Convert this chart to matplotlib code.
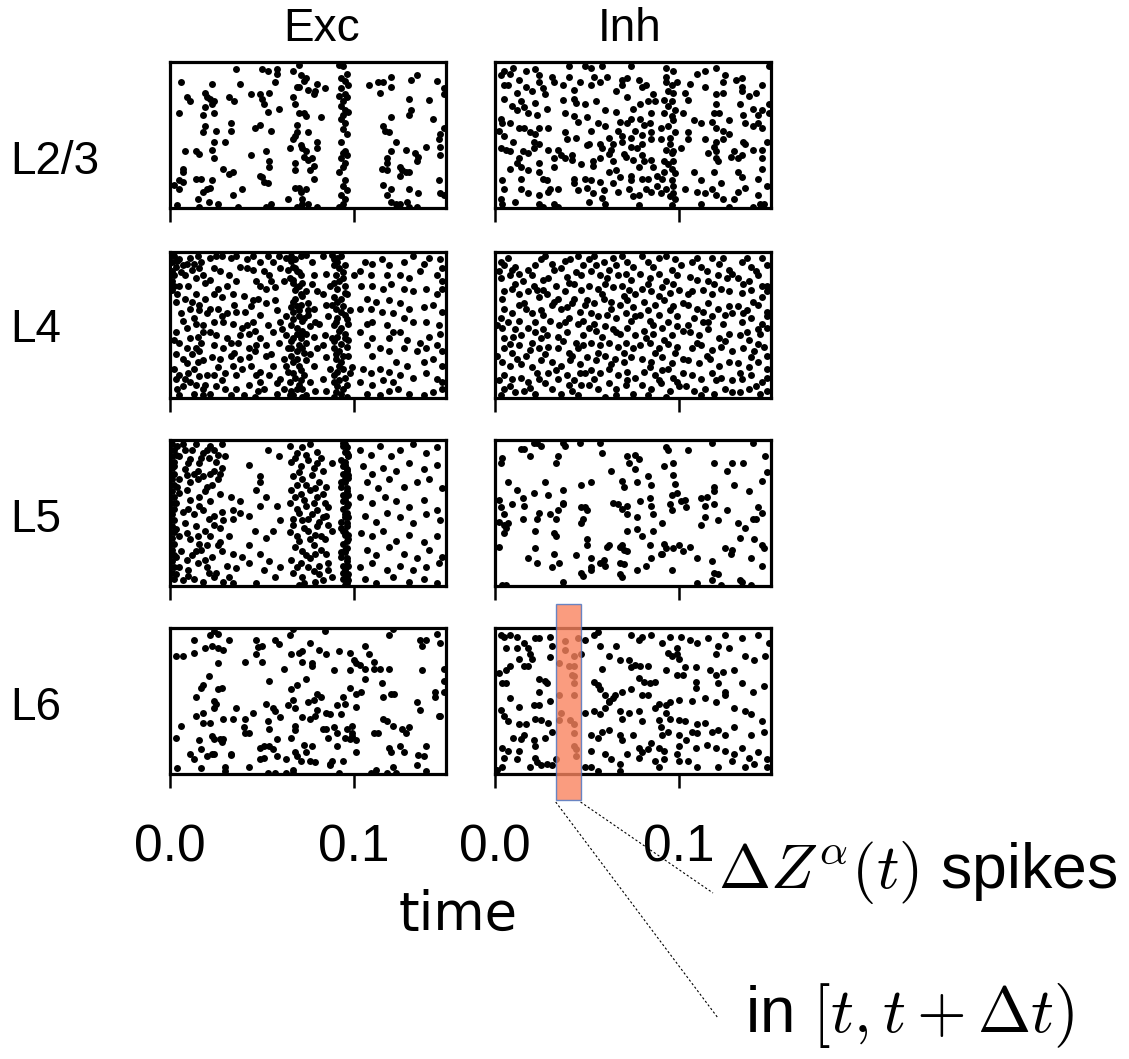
import numpy as np
import matplotlib
matplotlib.use("Agg")
import matplotlib.pyplot as plt
from matplotlib.patches import Rectangle
from matplotlib.lines import Line2D
import matplotlib.transforms as mtransforms

plt.rcParams['font.family'] = ['Liberation Sans', 'DejaVu Sans']
plt.rcParams['mathtext.fontset'] = 'cm'

# spike rasters: (time in ms, neuron index on a 0-100 scale)
exc_l23 = [
    (6,86),(9,76),(11,73),(5,65),(18,64),(18,52),(19,56),(8,39),(14,39),(16,37),(7,27),(7,25),(5,19),(7,18),
    (2,16),(5,13),(14,20),(17,20),(15,6),(4,2),(16,1),(18,11),(20,13),(22,14),(23,19),(21,4),(26,3),(24,34),
    (23,40),(24,45),(30,45),(25,53),(19,69),(23,71),(24,73),(20,76),(19,79),(23,85),(22,75),(24,65),(32,76),
    (35,73),(38,85),(36,95),(33,58),(33,53),(29,27),(34,25),(32,23),(34,9),(37,1),(39,13),(44,78),(44,36),
    (46,55),(49,57),(49,78),(50,75),(51,71),(53,66),(54,79),(52,39),(54,32),(54,28),(49,22),(50,21),(51,18),
    (53,17),(52,1),(55,3),(55,53),(57,86),(59,68),(50,95),(53,94),(58,95),(58,92),(67,94),(71,91),(74,89),
    (73,87),(69,83),(70,83),(75,81),(78,78),(80,85),(84,82),(79,80),(67,76),(68,71),(70,65),(73,65),(74,63),
    (69,57),(69,52),(68,49),(67,47),(75,52),(82,62),(80,45),(80,41),(71,43),(72,41),(74,39),(73,35),(75,33),
    (77,34),(78,29),(76,26),(78,20),(65,41),(68,31),(68,26),(64,6),(68,14),(70,14),(71,11),(74,13),(72,6),
    (72,3),(69,1),(75,3),(80,1),(70,98),
    (92,98),(94,97),(96,92),(93,89),(95,87),(97,84),(93,82),(95,78),(92,77),(96,76),(94,73),(93,70),(95,67),
    (97,66),(94,64),(93,61),(95,58),(94,54),(96,51),(93,45),(95,39),(94,38),(96,36),(93,34),(95,31),(94,28),
    (92,25),(95,19),(94,15),(96,12),(93,9),(95,6),(94,3),(92,1),
    (108,84),(113,86),(116,86),(114,79),(120,90),(120,83),(131,88),(134,91),(145,87),(149,82),(149,78),
    (130,75),(141,74),(131,67),(130,64),(120,62),(143,61),(116,56),(117,53),(119,52),(149,55),(147,51),
    (146,47),(147,42),(123,45),(139,42),(120,39),(128,40),(133,38),(135,35),(134,32),(118,34),(118,31),
    (115,27),(118,26),(125,28),(126,26),(128,25),(130,25),(125,22),(147,36),(146,19),(147,10),(149,9),
    (116,16),(120,13),(130,13),(135,10),(118,9),(120,4),(123,3),(129,4),(130,1),(134,1),(125,3),
]

inh_l23 = [
    (5,94),(3,91),(8,92),(17,94),(22,95),(24,91),(31,90),(40,97),(49,97),(52,96),(58,97),(54,90),(74,97),
    (93,96),(97,94),(110,92),(114,94),(120,96),(125,91),(131,88),(134,89),(149,97),
    (5,84),(7,84),(12,79),(17,83),(24,86),(26,82),(32,86),(37,84),(43,81),(52,84),(57,86),(61,90),(69,88),
    (69,84),(72,89),(78,88),(80,83),(82,84),(93,86),(96,84),(99,86),(94,80),(97,79),(103,79),(114,83),
    (120,78),(124,79),(134,83),(134,80),(145,84),(142,79),
    (5,75),(14,73),(22,72),(16,69),(27,78),(37,74),(43,75),(49,71),(55,73),(60,67),(66,66),(72,76),(79,71),
    (83,73),(87,73),(92,74),(96,73),(98,67),(105,74),(120,71),(133,71),(140,68),(145,67),(149,71),(12,67),
    (18,65),(23,64),(38,65),(43,63),(68,59),(74,61),(79,61),(85,65),(92,65),(96,63),(102,65),(119,65),
    (122,65),(135,64),(143,64),(149,65),
    (3,61),(4,58),(8,58),(13,55),(16,55),(19,52),(22,51),(24,55),(29,55),(38,52),(45,59),(52,53),(56,58),
    (67,53),(72,58),(76,53),(81,57),(80,50),(85,52),(90,55),(94,56),(98,52),(105,52),(112,58),(118,59),
    (120,55),(124,53),(127,51),(136,58),(140,56),(143,58),(145,55),(5,49),(21,45),(24,44),(39,47),(51,44),
    (57,44),(62,48),(69,49),(69,45),(74,48),(80,44),(85,47),(90,47),(95,48),(105,47),(114,47),(120,45),
    (124,47),(135,45),
    (3,41),(6,40),(8,39),(15,39),(21,41),(29,40),(34,40),(36,36),(42,36),(50,43),(58,41),(63,40),(70,37),
    (74,42),(80,36),(93,40),(97,39),(101,41),(119,42),(120,39),(130,39),(136,44),(145,40),(13,34),(12,31),
    (32,34),(38,34),(42,33),(53,29),(57,34),(64,32),(71,35),(75,33),(81,32),(85,33),(92,32),(97,32),(120,34),
    (121,32),(132,34),(134,36),(145,34),
    (14,28),(18,26),(24,25),(32,28),(53,32),(62,25),(66,26),(74,22),(78,28),(80,20),(88,22),(92,25),(96,27),
    (98,24),(119,25),(132,25),(145,27),(14,20),(26,20),(43,20),(49,20),(52,19),(57,18),(64,17),(68,21),
    (74,19),(83,20),(91,20),(96,19),(112,19),(123,17),(134,21),(143,20),(4,19),
    (5,13),(14,13),(18,10),(24,9),(29,11),(30,13),(34,13),(43,17),(50,14),(53,10),(59,12),(67,11),(73,13),
    (75,8),(78,9),(82,13),(85,11),(90,10),(97,10),(98,6),(103,13),(110,11),(118,13),(120,9),(124,6),(130,6),
    (132,11),(143,9),(3,6),(4,3),(24,3),(26,1),(32,3),(34,1),(51,4),(60,3),(78,2),(96,2),(112,3),(127,1),
    (140,1),(144,3),(146,3),
    (94,70),(97,60),(95,44),(96,38),(94,30),(97,15),(95,8),(93,90),
    (10,96),(13,88),(20,80),(9,70),(28,68),(2,53),(10,45),(18,38),(24,31),(8,27),(28,19),(11,4),(40,90),
    (46,86),(44,72),(50,62),(44,48),(60,56),(64,44),(47,30),(62,37),(45,12),(58,7),(66,80),(75,68),(86,78),
    (84,58),(77,41),(86,28),(88,15),(93,13),(106,85),(108,60),(116,38),(108,25),(114,10),(127,60),(138,77),
    (128,35),(140,40),(148,45),(136,14),(148,15),(124,86),
]

exc_l4 = [
    (2,97),(5,95),(3,90),(7,91),(11,96),(13,92),(15,97),(17,93),(2,84),(8,84),(5,77),(10,77),(14,82),(18,84),
    (4,71),(3,66),(14,71),(16,64),(11,61),(7,53),(13,55),(14,51),(18,50),(3,45),(5,38),(11,41),(15,42),
    (18,45),(17,38),(14,34),(9,34),(16,32),(7,27),(18,26),(13,20),(5,16),(3,13),(8,13),(11,11),(14,9),(18,6),
    (5,2),(13,3),(18,2),(19,9),(4,6),(10,17),(20,16),(16,60),(20,58),(1,93),(1,87),(1,80),(1,74),
    (22,96),(25,97),(28,97),(33,96),(36,97),(42,95),(45,97),(24,89),(27,87),(32,84),(38,90),(42,89),(45,88),
    (22,81),(26,75),(31,77),(36,80),(47,80),(24,71),(28,69),(34,71),(45,67),(22,61),(26,61),(31,58),(36,59),
    (41,59),(44,63),(24,52),(29,52),(34,51),(42,50),(45,52),(22,45),(25,43),(31,41),(38,43),(43,44),(46,46),
    (24,36),(29,34),(33,38),(37,38),(43,34),(47,36),(23,28),(27,27),(33,29),(38,27),(43,28),(46,32),(26,21),
    (34,22),(39,20),(44,22),(24,16),(30,17),(36,16),(47,16),(49,11),(43,9),(36,6),(30,6),(25,8),(22,3),
    (33,2),(40,2),(48,5),(46,1),
    (49,93),(53,97),(56,93),(59,97),(63,96),(51,87),(54,84),(60,89),(64,88),(49,77),(52,75),(57,76),(62,80),
    (65,82),(48,68),(52,65),(57,67),(49,57),(53,50),(56,45),(60,52),(63,56),(49,41),(52,36),(59,38),(63,43),
    (52,29),(56,22),(62,27),(64,34),(49,18),(54,16),(60,13),(64,18),(51,6),(58,3),(62,6),(65,2),
    (66,97),(68,95),(71,97),(74,98),(77,93),(67,90),(69,87),(71,84),(67,81),(70,77),(72,79),(68,74),(71,71),
    (74,73),(67,66),(69,63),(71,64),(75,65),(78,61),(67,59),(70,56),(72,53),(75,57),(66,50),(69,48),(72,46),
    (76,49),(79,52),(67,41),(71,41),(74,38),(78,42),(66,34),(69,32),(72,34),(76,30),(67,25),(70,22),(74,26),
    (78,22),(68,14),(71,12),(65,11),(69,6),(72,6),(76,11),(67,2),(74,2),(79,5),(78,84),(80,73),(80,34),
    (83,97),(88,98),(91,96),(93,97),(89,91),(92,89),(95,91),(85,85),(90,84),(94,82),(87,77),(91,75),(95,77),
    (83,71),(89,69),(93,68),(96,71),(85,64),(90,61),(94,63),(86,56),(91,55),(95,57),(81,51),(89,50),(93,48),
    (97,51),(84,43),(88,41),(91,42),(95,41),(83,36),(89,34),(92,32),(96,35),(85,28),(90,27),(93,25),(97,29),
    (87,20),(91,18),(94,20),(98,17),(83,13),(89,11),(92,12),(96,9),(85,5),(90,4),(93,3),(96,1),(99,21),
    (100,84),
    (106,93),(110,92),(115,95),(119,91),(103,87),(109,84),(118,84),(104,77),(110,77),(116,75),(120,78),
    (107,68),(112,66),(119,67),(103,61),(109,61),(115,59),(121,58),(107,51),(110,52),(118,50),(103,45),
    (110,41),(119,41),(121,45),(107,36),(114,34),(119,32),(110,29),(105,20),(109,17),(114,20),(119,18),
    (103,11),(110,9),(116,12),(121,11),(107,3),(114,2),(119,5),
    (127,93),(132,97),(138,92),(141,96),(147,95),(148,89),(125,84),(130,82),(136,87),(145,84),(148,80),
    (127,75),(132,73),(139,75),(145,71),(148,75),(125,65),(130,61),(138,62),(143,64),(148,59),(127,55),
    (132,52),(139,52),(146,50),(125,45),(129,40),(136,38),(141,42),(147,44),(127,34),(134,32),(139,34),
    (145,36),(148,32),(123,25),(129,22),(138,25),(143,27),(148,22),(125,16),(132,14),(139,17),(145,13),
    (148,11),(124,6),(130,3),(138,2),(143,4),(148,6),
    (66,94),(68,89),(70,86),(67,79),(69,76),(72,70),(68,68),(66,62),(70,60),(73,55),(67,54),(69,44),(71,43),
    (66,39),(70,36),(73,31),(66,29),(69,27),(71,19),(67,17),(73,16),(70,9),(66,5),(72,1),(74,44),(75,60),
    (77,78),(89,95),(91,93),(94,86),(92,80),(89,79),(95,72),(91,66),(88,64),(93,59),(96,54),(90,52),(92,46),
    (95,44),(89,39),(93,37),(90,30),(94,29),(92,22),(89,16),(95,14),(91,8),(94,6),(89,1),(97,40),(98,60),
    (4,94),(9,92),(12,88),(6,86),(16,89),(19,79),(2,77),(8,68),(12,66),(19,68),(6,58),(9,48),(2,40),(12,30),
    (3,30),(9,24),(15,25),(2,20),(7,8),(16,15),(40,70),(35,64),(28,56),(39,48),(35,31),(28,12),(55,80),
    (58,60),(61,47),(55,30),(58,10),(63,22),
]

inh_l4 = [
    (3,93),(5,91),(9,88),(13,85),(18,88),(22,91),(25,95),(3,82),(8,84),(15,80),(21,77),(26,81),(5,73),(9,75),
    (13,71),(18,73),(23,74),(5,61),(13,64),(16,65),(20,58),(25,60),(3,55),(7,52),(13,53),(18,48),(22,52),
    (4,48),(5,41),(10,42),(14,43),(20,38),(25,41),(5,34),(9,31),(13,36),(17,29),(24,34),(4,25),(8,22),(14,23),
    (20,21),(25,26),(5,16),(9,13),(14,14),(18,11),(24,13),(5,6),(11,4),(16,5),(22,3),(3,2),
    (27,97),(31,92),(36,89),(41,95),(45,97),(48,91),(29,82),(33,77),(39,83),(43,78),(47,84),(28,71),(34,68),
    (38,73),(43,68),(47,74),(31,64),(36,61),(42,65),(46,59),(30,53),(35,50),(40,55),(45,51),(28,43),(34,42),
    (39,45),(44,38),(48,43),(29,35),(34,34),(40,31),(45,34),(31,25),(36,22),(41,26),(46,23),(29,17),(34,13),
    (39,16),(43,12),(49,17),(31,6),(36,3),(42,5),(47,9),(45,2),
    (51,95),(54,97),(59,93),(64,96),(69,97),(72,93),(75,90),(52,87),(57,84),(62,88),(67,84),(71,85),(74,81),
    (51,77),(56,75),(60,78),(64,76),(69,77),(73,74),(76,71),(50,67),(54,65),(59,68),(63,66),(68,64),(72,67),
    (75,62),(52,58),(56,56),(61,57),(66,55),(71,58),(74,53),(51,48),(55,46),(60,49),(64,47),(68,44),(72,48),
    (76,43),(52,38),(57,36),(62,38),(67,35),(71,38),(75,34),(50,28),(55,26),(60,29),(65,27),(70,25),(74,28),
    (52,19),(57,17),(62,20),(67,16),(72,18),(76,14),(51,9),(56,6),(62,10),(66,6),(71,9),(75,3),(60,1),
    (80,97),(83,93),(89,96),(93,97),(98,95),(101,91),(79,85),(84,82),(89,85),(93,80),(99,84),(80,75),(85,73),
    (91,76),(95,72),(100,74),(81,66),(87,64),(92,67),(97,63),(102,65),(79,57),(84,53),(89,57),(94,52),
    (99,56),(81,46),(86,44),(91,48),(96,43),(102,46),(79,36),(84,38),(89,34),(94,37),(99,35),(80,27),(85,25),
    (91,28),(96,24),(102,27),(81,18),(87,16),(91,19),(97,14),(102,17),(80,9),(85,6),(90,10),(95,5),(100,8),
    (93,1),
    (107,93),(112,90),(118,96),(122,92),(127,88),(106,83),(110,81),(116,80),(121,84),(126,82),(129,85),
    (107,73),(113,74),(118,71),(123,75),(127,73),(105,64),(110,61),(116,65),(121,61),(127,63),(108,55),
    (113,52),(118,56),(124,51),(129,58),(106,45),(111,43),(116,47),(122,41),(127,44),(107,34),(112,36),
    (118,33),(123,35),(129,32),(105,26),(111,24),(117,27),(122,22),(127,25),(107,16),(112,13),(118,17),
    (123,14),(129,12),(108,5),(114,6),(119,3),(125,6),(129,4),
    (134,93),(139,90),(145,96),(148,91),(132,82),(138,80),(143,84),(148,77),(134,72),(139,74),(145,69),
    (148,73),(132,63),(137,60),(143,64),(148,59),(134,52),(139,55),(145,51),(148,56),(133,43),(138,40),
    (144,44),(148,48),(135,34),(141,32),(146,35),(148,29),(132,24),(138,21),(143,25),(148,20),(134,13),
    (139,16),(145,11),(148,14),(133,4),(138,6),(144,3),(148,5),
    (7,96),(11,90),(2,87),(20,84),(11,78),(4,68),(24,69),(9,58),(17,61),(1,50),(11,47),(22,45),(8,37),
    (19,33),(1,29),(12,27),(23,17),(2,12),(8,8),(19,7),(32,88),(38,94),(44,86),(40,79),(26,74),(32,66),
    (39,62),(49,64),(26,57),(38,52),(48,53),(26,47),(37,39),(48,36),(27,30),(42,29),(33,19),(46,17),(27,10),
    (40,9),(55,91),(61,82),(66,91),(58,71),(70,70),(63,61),(76,56),(54,51),(66,45),(58,42),(70,31),(56,31),
    (63,23),(72,12),(54,13),(66,2),(86,90),(96,88),(83,78),(97,78),(89,70),(83,60),(95,60),(86,50),(99,49),
    (82,41),(92,40),(87,31),(98,31),(84,21),(94,20),(89,12),(99,11),(83,2),(110,96),(115,87),(124,96),
    (105,71),(119,78),(113,59),(125,57),(105,50),(116,52),(110,38),(125,39),(115,29),(120,12),(104,8),
    (112,2),(137,96),(142,87),(135,78),(145,77),(140,66),(135,58),(143,47),(137,45),(143,37),(139,28),
    (133,17),(142,8),
]

exc_l5 = [
    (94,98),(96,95),(95,92),(97,89),(93,86),(95,83),(96,80),(94,77),(97,74),(95,71),(93,68),(96,65),(94,62),
    (95,59),(97,56),(94,53),(96,50),(95,47),(93,44),(96,41),(94,38),(95,35),(97,32),(94,29),(96,26),(95,23),
    (93,20),(96,17),(94,14),(95,11),(97,8),(94,5),(96,2),(95,97),(96,91),(95,85),(96,79),(95,73),(96,67),
    (95,61),(96,55),(95,49),(96,43),(95,37),(96,31),(95,25),(96,19),(95,13),(96,7),(95,1),
    (1,97),(2,93),(1,89),(2,85),(1,81),(2,77),(1,73),(2,69),(1,65),(2,61),(1,57),(2,53),(1,49),(2,45),(1,41),
    (2,37),(1,33),(2,29),(1,25),(2,21),(1,17),(2,13),(1,9),(2,5),
    (4,96),(7,97),(12,93),(14,97),(18,91),(22,96),(24,93),(28,97),(5,89),(11,87),(16,84),(21,88),(25,85),
    (30,89),(2,82),(8,80),(13,77),(18,75),(24,79),(28,81),(5,73),(11,71),(15,73),(20,68),(26,73),
    (5,64),(11,59),(16,61),(22,58),(27,63),(33,61),(38,58),(7,51),(13,49),(18,52),(24,48),(28,51),(34,52),
    (8,43),(14,41),(19,38),(24,42),(29,45),(34,46),(38,50),(5,34),(11,32),(16,29),(22,34),(27,30),(32,34),
    (6,24),(12,21),(17,25),(23,20),(28,24),(34,22),(39,20),(5,13),(10,11),(15,16),(20,13),(25,9),(31,14),
    (36,12),(7,4),(13,5),(18,3),(24,6),(29,3),(34,2),
    (43,83),(49,75),(53,93),(47,66),(52,61),(43,48),(49,55),(46,38),(52,33),(56,38),(43,28),(49,22),(54,17),
    (43,16),(51,11),(57,6),(60,13),(47,2),(49,71),(58,55),(59,89),(60,45),
    (65,96),(69,91),(72,95),(76,97),(80,92),(66,85),(71,82),(75,86),(80,84),(83,79),(67,75),(72,73),(77,76),
    (81,71),(66,66),(71,63),(76,66),(80,61),(85,68),(65,57),(69,53),(74,55),(80,52),(84,57),(67,46),(72,45),
    (77,49),(81,44),(85,48),(65,37),(69,34),(75,38),(79,35),(84,32),(68,27),(72,24),(78,28),(82,25),(66,18),
    (71,16),(76,19),(81,14),(86,16),(67,9),(72,6),(78,10),(83,4),(70,1),(88,6),(88,38),(88,84),
    (103,93),(109,90),(114,96),(120,89),(125,93),(132,97),(139,91),(145,95),(105,82),(110,77),(116,81),
    (123,79),(130,84),(138,80),(145,83),(107,71),(113,67),(119,73),(127,68),(134,71),(141,73),(148,67),
    (103,61),(110,57),(117,61),(123,58),(130,54),(138,59),(145,52),(106,48),(112,44),(118,50),(125,47),
    (132,43),(139,49),(147,45),(104,36),(110,34),(116,38),(123,31),(130,35),(138,30),(145,34),(107,25),
    (112,21),(119,27),(127,22),(134,19),(141,25),(148,20),(103,13),(110,16),(118,11),(125,14),(132,11),
    (139,13),(146,16),(106,5),(112,2),(121,6),(130,3),(138,5),(145,2),
    (3,90),(8,93),(10,84),(17,88),(20,93),(26,90),(9,76),(15,79),(22,77),(27,77),(4,68),(9,66),(19,65),
    (23,69),(3,57),(10,53),(16,55),(21,46),(27,40),(3,39),(9,36),(15,34),(20,28),(26,28),(3,20),(9,18),
    (14,24),(19,18),(3,8),(10,7),(21,9),(32,6),
    (68,88),(74,90),(78,81),(70,78),(82,88),(69,69),(74,69),(79,67),(83,63),(68,61),(73,59),(78,57),(86,54),
    (70,50),(75,46),(83,47),(67,42),(73,40),(80,41),(86,42),(70,31),(76,32),(82,34),(74,21),(79,22),(85,22),
    (69,13),(75,13),(81,8),(86,11),(73,2),(79,3),
    (94,96),(97,90),(94,82),(97,76),(93,71),(97,62),(94,58),(97,47),(93,40),(97,35),(93,23),(97,14),(94,9),
    (97,4),
]

inh_l5 = [
    (14,94),(16,94),(19,89),(21,98),(23,98),(25,96),(37,98),(38,96),(46,98),(57,98),(58,91),(72,89),(76,90),
    (78,87),(73,84),(93,95),(94,93),(105,93),(118,98),(140,98),(147,89),(148,78),(4,88),(3,84),(34,89),
    (33,84),(63,79),(76,80),(83,75),(85,69),(97,84),(97,76),(92,82),(98,70),(119,84),(126,79),(129,84),
    (135,84),(145,72),(7,71),(12,66),(15,60),(16,55),(21,64),(27,71),(29,62),(37,66),(37,57),(47,69),(52,71),
    (69,72),(70,68),(77,71),(79,58),(84,60),(85,55),(86,49),(96,62),(99,64),(101,58),(103,59),(104,54),
    (112,60),(115,61),(119,65),(119,68),(130,69),(138,65),(2,59),(3,54),(5,49),(9,56),(2,44),(5,42),(7,43),
    (6,40),(5,36),(15,46),(22,38),(23,46),(24,50),(30,49),(33,46),(34,52),(32,36),(33,34),(37,56),(47,54),
    (49,54),(50,52),(48,46),(47,43),(64,57),(67,56),(69,53),(72,55),(72,49),(77,47),(72,38),(77,39),(80,34),
    (86,38),(91,43),(95,56),(96,52),(112,42),(114,47),(114,55),(121,45),(119,56),(126,52),(132,43),(136,40),
    (140,46),(142,46),(143,54),(145,50),(133,33),(2,27),(22,26),(32,22),(18,19),(23,16),(31,13),(35,16),
    (44,21),(50,32),(50,28),(52,19),(57,16),(59,18),(60,14),(52,13),(52,11),(47,9),(48,7),(61,27),(62,28),
    (68,27),(69,28),(70,25),(72,24),(68,16),(70,15),(68,8),(69,6),(77,11),(82,14),(84,28),(85,19),(90,22),
    (92,29),(93,26),(97,26),(100,28),(102,24),(106,27),(91,22),(96,11),(110,19),(118,17),(119,9),(121,8),
    (118,4),(125,26),(129,25),(128,22),(141,32),(145,28),(146,26),(139,19),(145,14),(4,1),(6,1),(37,3),
    (110,2),(123,1),(133,4),(134,3),(139,1),
]

exc_l6 = [
    (13,92),(22,95),(24,98),(26,96),(32,92),(47,92),(57,92),(59,89),(65,95),(67,99),(84,98),(119,95),(121,99),
    (136,92),(139,92),(137,88),(145,96),(147,90),(3,81),(7,81),(13,83),(19,86),(23,88),(26,86),(29,85),
    (48,87),(50,88),(47,82),(66,82),(70,83),(72,84),(76,90),(81,85),(85,82),(92,84),(98,83),(106,88),
    (108,82),(26,76),(41,77),(50,77),(62,72),(72,77),(77,76),(77,74),(89,71),(98,71),(100,78),(101,76),
    (103,75),(106,72),(106,65),(111,77),(111,72),(114,72),(119,72),(137,71),(149,72),(149,64),(21,67),
    (18,61),(17,59),(26,58),(28,59),(54,64),(66,58),(69,61),(74,65),(80,55),(94,53),(98,59),(101,55),
    (104,56),(115,62),(116,53),(120,55),(122,55),(144,56),(144,53),(149,56),(134,49),(14,53),(24,50),
    (25,48),(24,45),(36,45),(41,38),(45,42),(52,48),(56,45),(57,43),(64,47),(67,51),(68,45),(75,49),(78,51),
    (80,44),(82,53),(85,42),(87,41),(91,47),(95,48),(101,46),(136,44),(146,40),(14,40),(18,42),(18,35),
    (22,35),(29,38),(34,38),(40,32),(41,28),(43,28),(53,36),(54,31),(60,39),(68,33),(68,30),(72,39),(76,38),
    (79,40),(83,31),(85,31),(89,32),(93,41),(96,31),(99,33),(99,28),(101,23),(116,38),(118,36),(121,33),
    (126,31),(128,28),(130,32),(113,28),(111,28),(3,25),(6,33),(16,23),(17,17),(20,12),(23,26),(24,24),
    (27,24),(28,22),(29,24),(23,14),(24,14),(33,14),(33,13),(49,18),(51,19),(54,19),(56,17),(58,24),(58,12),
    (49,10),(51,11),(63,10),(66,25),(68,15),(69,12),(71,9),(73,20),(74,15),(76,9),(77,19),(79,8),(86,25),
    (87,6),(88,9),(91,19),(91,28),(94,9),(95,25),(98,24),(99,26),(101,15),(119,18),(120,15),(125,19),
    (127,15),(135,13),(138,12),(139,19),(134,6),(11,14),(13,10),(4,4),(17,4),(30,5),(30,2),(43,5),(53,1),
    (57,1),(63,1),(67,3),(67,1),(87,7),(92,1),(109,1),(112,3),(118,1),(121,5),(123,1),(139,2),(147,40),
]

inh_l6 = [
    (3,95),(5,94),(8,95),(12,94),(16,90),(22,93),(24,93),(30,94),(31,88),(6,86),(12,86),(18,86),(19,82),
    (20,79),(13,79),(30,80),(8,74),(6,71),(16,74),(18,74),(2,69),(4,62),(6,62),(24,65),(27,64),(28,62),
    (24,56),(8,52),(13,46),(21,47),(24,47),(30,50),(3,44),(5,40),(7,36),(13,34),(17,34),(22,38),(25,37),
    (29,35),(10,25),(14,24),(16,27),(21,23),(22,19),(27,25),(31,29),(4,18),(7,16),(13,16),(5,11),(12,10),
    (22,11),(23,8),(25,6),(28,7),(31,6),(1,3),(4,5),(19,5),
    (38,91),(45,93),(38,85),(43,81),(35,76),(40,74),(43,74),(42,68),(43,67),(43,62),(35,54),(43,54),(36,42),
    (35,37),(41,37),(43,34),(43,28),(43,19),(44,17),(44,12),(33,10),
    (47,82),(49,92),(54,95),(57,88),(62,81),(56,97),(66,88),(74,95),(78,92),(80,94),(68,78),(73,78),(74,73),
    (76,75),(79,74),(83,74),(58,72),(54,63),(56,61),(57,58),(60,54),(62,50),(64,52),(65,54),(69,56),(74,58),
    (78,66),(81,63),(84,62),(87,63),(80,54),(83,54),(49,42),(54,43),(57,41),(60,45),(62,49),(68,43),(69,38),
    (73,42),(78,43),(80,36),(52,27),(56,25),(58,29),(62,30),(68,27),(69,23),(75,27),(78,18),(80,15),(83,17),
    (52,16),(60,14),(63,10),(68,7),(72,14),(78,11),(49,5),(52,5),(56,2),(68,2),
    (85,95),(91,90),(95,94),(96,81),(101,94),(106,92),(110,90),(94,83),(99,86),(99,82),(100,79),(103,73),
    (109,73),(93,71),(99,68),(102,68),(109,63),(109,59),(95,49),(89,48),(93,47),(100,51),(107,50),(87,45),
    (89,37),(93,42),(95,38),(100,37),(103,36),(110,34),(90,32),(91,27),(94,29),(100,27),(107,29),(110,28),
    (85,21),(89,18),(92,16),(100,19),(104,23),(109,18),(87,9),(92,10),(99,14),(100,9),(105,9),(110,5),(89,5),
    (116,93),(121,88),(125,95),(134,93),(143,95),(149,90),(120,82),(127,86),(136,81),(141,78),(147,81),
    (117,71),(120,68),(124,70),(130,71),(121,62),(125,56),(134,62),(140,56),(146,60),(114,52),(120,49),
    (125,54),(130,45),(136,43),(139,41),(145,36),(114,35),(118,29),(121,30),(125,27),(130,32),(139,27),
    (146,29),(115,20),(120,18),(125,16),(130,14),(134,18),(138,11),(143,15),(148,10),(121,5),(129,9),(136,5),
    (141,7),(148,5),
]

layers = ["L2/3", "L4", "L5", "L6"]
populations = ["Exc", "Inh"]
rasters = [[exc_l23, inh_l23], [exc_l4, inh_l4], [exc_l5, inh_l5], [exc_l6, inh_l6]]
t_max = 0.15
ticks = [0.0, 0.1]
tick_labels = ["0.0", "0.1"]
# highlighted time bin in Inh L6 (ms)
bin_start = 33.0
bin_width = 13.5

W, H = 1129, 1059
fig = plt.figure(figsize=(W / 100, H / 100), dpi=100)

col_left = [170, 495]
col_w = 276
row_top = [62, 252, 440, 628]
row_h = 146
label_y = [162, 330, 520, 708]
title_x = [322, 630]

axes = {}
for i, layer in enumerate(layers):
    for j, pop in enumerate(populations):
        ax = fig.add_axes([col_left[j] / W, 1 - (row_top[i] + row_h) / H, col_w / W, row_h / H])
        data = np.array(rasters[i][j], dtype=float)
        ax.scatter(data[:, 0] / 1000.0, data[:, 1], s=25, c='black', linewidths=0)
        ax.set_xlim(0, t_max)
        ax.set_ylim(0, 100)
        ax.set_yticks([])
        ax.set_xticks(ticks)
        ax.set_xticklabels(tick_labels)
        for sp in ax.spines.values():
            sp.set_linewidth(2.3)
        ax.tick_params(axis='x', direction='out', length=10, width=1.8, pad=26,
                       labelsize=37, labelbottom=(i == len(layers) - 1))
        axes[(i, j)] = ax
    fig.text(10 / W, 1 - label_y[i] / H, layer, ha='left', va='center', fontsize=33)

for j, pop in enumerate(populations):
    fig.text(title_x[j] / W, 1 - 29 / H, pop, ha='center', va='center', fontsize=33)

fig.text(458 / W, 1 - 915 / H, 'time', ha='center', va='center', fontsize=38, family='DejaVu Sans')

# highlighted bin
ax6 = axes[(3, 1)]
trans = mtransforms.blended_transform_factory(ax6.transData, ax6.transAxes)
rect = Rectangle((bin_start / 1000.0, -0.176), bin_width / 1000.0, 1.34, transform=trans,
                 facecolor='#F9845F', edgecolor='#4472C4', linewidth=1.0, alpha=0.8,
                 clip_on=False, zorder=5)
ax6.add_patch(rect)

# dotted guide lines from the bin to the annotation
x0 = (col_left[1] + bin_start / 1000.0 / t_max * col_w)
x1 = (col_left[1] + (bin_start + bin_width) / 1000.0 / t_max * col_w)
y0 = 802
fig.add_artist(Line2D([x0 / W, 718 / W], [1 - y0 / H, 1 - 1018 / H], transform=fig.transFigure,
                      color='black', linewidth=0.8, linestyle=(0, (2, 2))))
fig.add_artist(Line2D([x1 / W, 713 / W], [1 - y0 / H, 1 - 893 / H], transform=fig.transFigure,
                      color='black', linewidth=0.8, linestyle=(0, (2, 2))))

fig.text(718 / W, 1 - 872 / H, r'$\Delta Z^{\alpha}(t)$ spikes', ha='left', va='center', fontsize=45)
fig.text(745 / W, 1 - 1015 / H, r'in $[t, t+\Delta t)$', ha='left', va='center', fontsize=46)

fig.savefig('out.png', dpi=100)
